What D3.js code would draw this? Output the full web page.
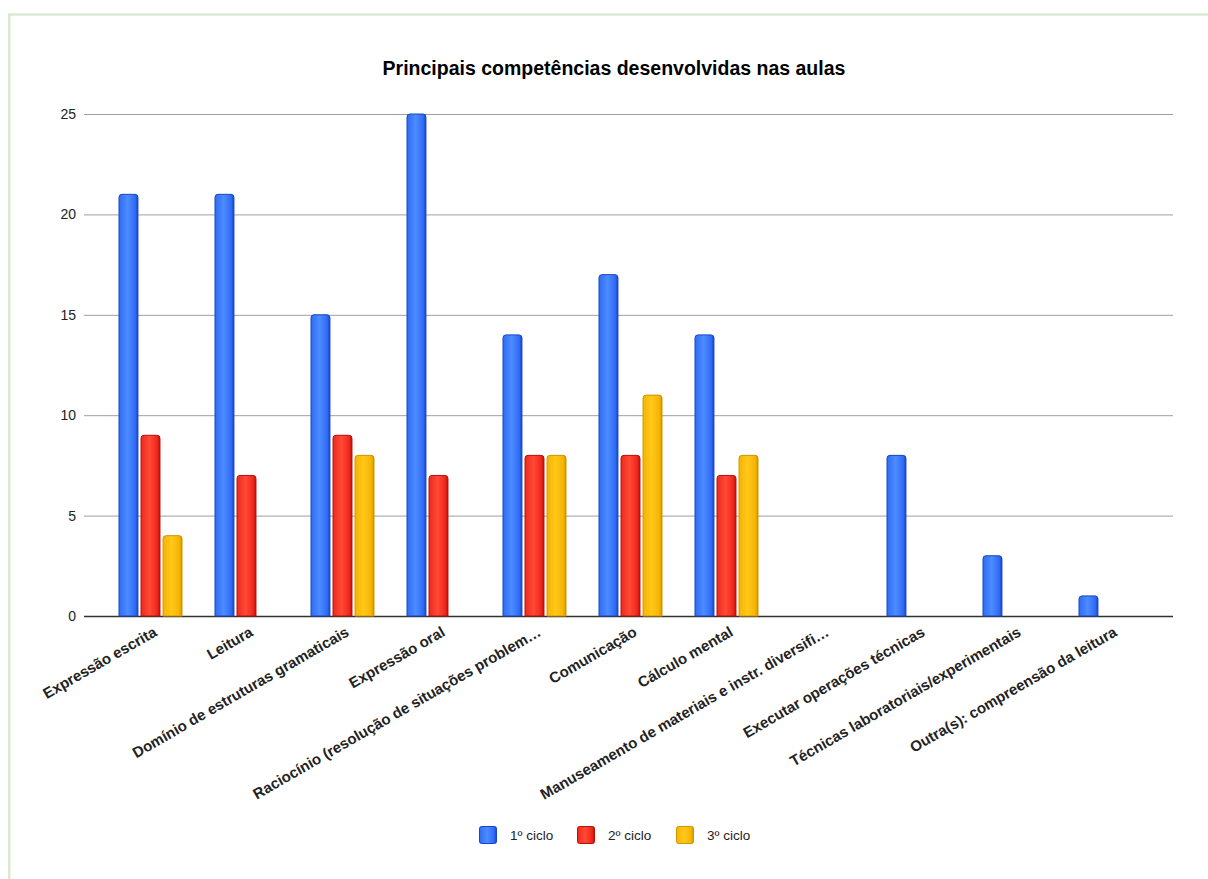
<!DOCTYPE html>
<html lang="pt">
<head>
    <meta charset="UTF-8">
    <title>Principais competências desenvolvidas nas aulas</title>
    <script src="https://d3js.org/d3.v7.min.js"></script>
    <style>
        body {
            margin: 0;
            background: #ffffff;
            font-family: "Liberation Sans", Arial, sans-serif;
        }
        svg { display: block; }
    </style>
</head>
<body>
<svg id="chart"></svg>

<script>
    const width = 1208, height = 879;

    // data
    const categories = [
        "Expressão escrita", "Leitura", "Domínio de estruturas gramaticais", "Expressão oral",
        "Raciocínio (resolução de situações problem…", "Comunicação", "Cálculo mental",
        "Manuseamento de materiais e instr. diversifi…", "Executar operações técnicas",
        "Técnicas laboratoriais/experimentais", "Outra(s): compreensão da leitura"
    ];
    const seriesNames = ["1º ciclo", "2º ciclo", "3º ciclo"];
    const ciclo1 = [21, 21, 15, 25, 14, 17, 14, 0, 8, 3, 1];
    const ciclo2 = [9, 7, 9, 7, 8, 8, 7, 0, 0, 0, 0];
    const ciclo3 = [4, 0, 8, 0, 8, 11, 8, 0, 0, 0, 0];
    const yTicks = [0, 5, 10, 15, 20, 25];

    const colors = [
        { light: "#4d8bff", mid: "#2f6cf5", dark: "#1746c4" },
        { light: "#ff4a38", mid: "#f0281a", dark: "#b5110a" },
        { light: "#ffc81a", mid: "#f7b500", dark: "#cf9400" }
    ];

    const plot = { left: 84, right: 1173, top: 114, bottom: 616 };

    const svg = d3.select("#chart").attr("width", width).attr("height", height);

    // gradients for the bars
    const defs = svg.append("defs");
    colors.forEach((c, i) => {
        const g = defs.append("linearGradient").attr("id", "grad" + i)
            .attr("x1", "0%").attr("x2", "100%").attr("y1", "0%").attr("y2", "0%");
        g.append("stop").attr("offset", "0%").attr("stop-color", c.mid);
        g.append("stop").attr("offset", "45%").attr("stop-color", c.light);
        g.append("stop").attr("offset", "85%").attr("stop-color", c.mid);
        g.append("stop").attr("offset", "100%").attr("stop-color", c.dark);
    });

    // frame
    svg.append("rect")
        .attr("x", 9.25).attr("y", 14.5)
        .attr("width", 1240).attr("height", 900)
        .attr("fill", "none").attr("stroke", "#d9ead3").attr("stroke-width", 2.5);

    // title
    svg.append("text")
        .attr("x", 614).attr("y", 75)
        .attr("text-anchor", "middle")
        .attr("font-size", 19.5).attr("font-weight", "bold").attr("fill", "#000")
        .text("Principais competências desenvolvidas nas aulas");

    const y = d3.scaleLinear().domain([0, 25]).range([plot.bottom, plot.top]);

    const x = d3.scaleBand().domain(categories).range([101, 1157]);
    const xInner = d3.scaleBand().domain(seriesNames).range([-30, 33]).paddingInner(0.14);

    // grid + y labels
    const yAxis = svg.append("g");
    yAxis.selectAll("line").data(yTicks).join("line")
        .attr("x1", plot.left).attr("x2", plot.right)
        .attr("y1", d => y(d) + 0.5).attr("y2", d => y(d) + 0.5)
        .attr("stroke", d => d === 0 ? "#333" : "#9e9e9e")
        .attr("stroke-width", d => d === 0 ? 1.5 : 1);
    yAxis.selectAll("text").data(yTicks).join("text")
        .attr("x", 76).attr("y", d => y(d))
        .attr("dy", "0.35em").attr("text-anchor", "end")
        .attr("font-size", 14).attr("fill", "#222")
        .text(d => d);

    // bars
    const rows = categories.map((c, i) => ({ cat: c, vals: [ciclo1[i], ciclo2[i], ciclo3[i]] }));

    function barPath(x0, w, y0, y1, r) {
        const h = y1 - y0;
        r = Math.min(r, h, w / 2);
        return `M${x0},${y1}V${y0 + r}Q${x0},${y0} ${x0 + r},${y0}H${x0 + w - r}Q${x0 + w},${y0} ${x0 + w},${y0 + r}V${y1}Z`;
    }

    const groups = svg.append("g").selectAll("g").data(rows).join("g")
        .attr("transform", d => `translate(${x(d.cat) + x.bandwidth() / 2},0)`);

    groups.selectAll("path")
        .data(d => d.vals.map((v, i) => ({ v, i })).filter(e => e.v > 0))
        .join("path")
        .attr("d", e => barPath(xInner(seriesNames[e.i]), xInner.bandwidth(), y(e.v), plot.bottom, 3))
        .attr("fill", e => `url(#grad${e.i})`)
        .attr("stroke", e => colors[e.i].dark)
        .attr("stroke-width", 1);

    // x labels
    svg.append("g").selectAll("text").data(categories).join("text")
        .attr("transform", d => `translate(${x(d) + x.bandwidth() / 2 + 9},${plot.bottom + 19}) rotate(-30)`)
        .attr("text-anchor", "end")
        .attr("font-size", 15).attr("font-weight", "bold").attr("fill", "#222")
        .text(d => d);

    // legend
    const legendX = [479, 577, 676];
    const legend = svg.append("g").selectAll("g").data(seriesNames).join("g")
        .attr("transform", (d, i) => `translate(${legendX[i]},826)`);
    legend.append("rect")
        .attr("x", 0.5).attr("y", 0.5).attr("width", 17).attr("height", 17).attr("rx", 2)
        .attr("fill", (d, i) => `url(#grad${i})`)
        .attr("stroke", (d, i) => colors[i].dark);
    legend.append("text")
        .attr("x", 31).attr("y", 9).attr("dy", "0.35em")
        .attr("font-size", 13.5).attr("fill", "#222")
        .text(d => d);
</script>
</body>
</html>
